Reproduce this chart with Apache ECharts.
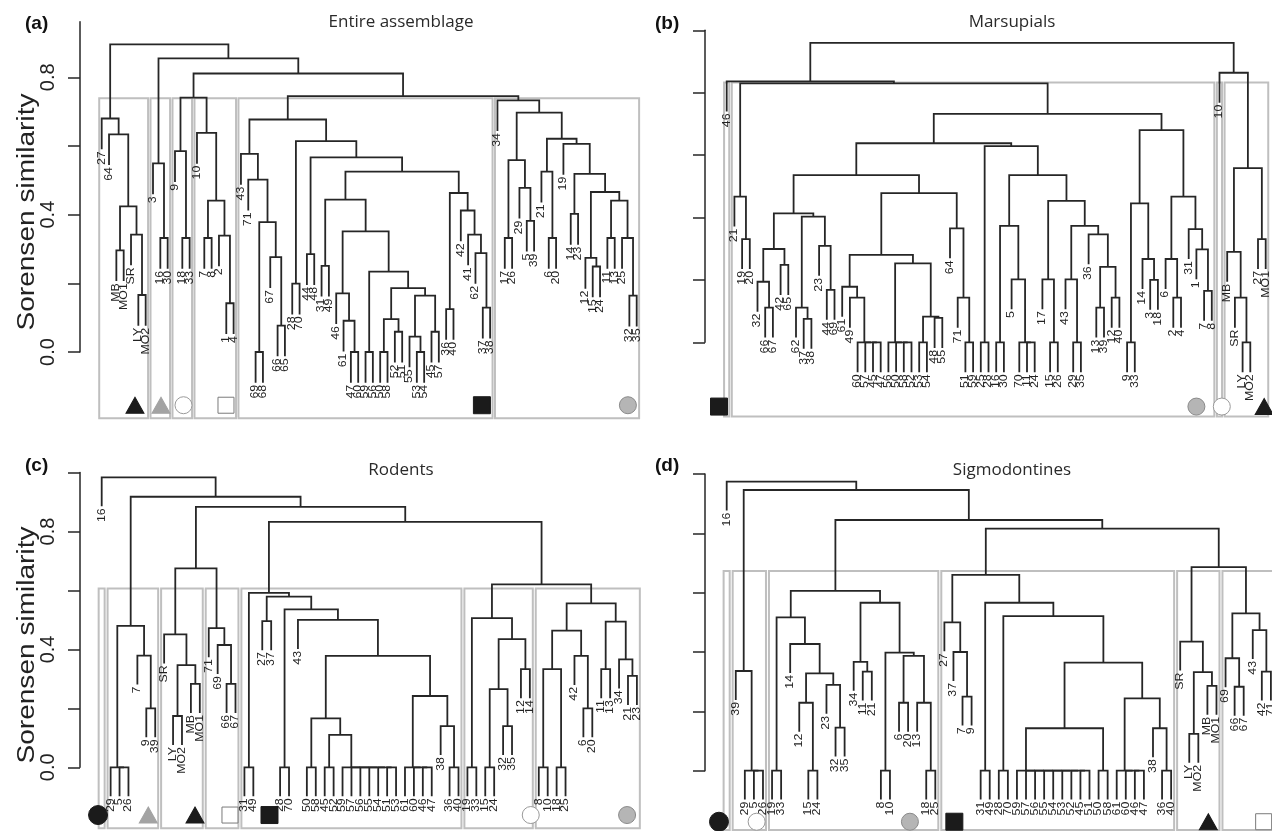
<!DOCTYPE html>
<html><head><meta charset="utf-8">
<script src="https://cdn.jsdelivr.net/npm/echarts@6.0.0/dist/echarts.min.js"></script>
<style>html,body{margin:0;padding:0;background:#fff}#c{width:1272px;height:831px}</style>
</head><body><div id="c"></div>
<script>
// ================= DATA =================
// Trees: [height, child, child, ...]; a string is a leaf (site label).
// Nodes with more than two children are ties (merged at the same height).

// ---- (a) Entire assemblage ----
const a_box1 = [0.680, "27", [0.634, "64", [0.424, [0.296, "MB", "MO1"], [0.342, "SR", [0.166, "LY", "MO2"]]]]];
const a_box2 = [0.549, "3", [0.332, "16", "30"]];
const a_box3 = [0.585, "9", [0.332, "18", "33"]];
const a_box4 = [0.638, "10", [0.441, [0.332, "7", "8"], [0.339, "2", [0.142, "1", "4"]]]];
const a_box5L = [0.577, "43", [0.502, "71", [0.378, [0, "69", "68"], [0.276, "67", [0.077, "66", "65"]]]]];
const a_box5K = [0.186, [0.096, [0, "50", "58"], [0.059, "52", "51"]], [0.164, [0.045, "55", [0, "53", "54"]], [0.059, "45", "57"]]];
const a_box5H = [0.351, [0.171, "46", [0.091, "61", [0, "47", "60"]]], [0.234, [0, "59", "56"], a_box5K]];
const a_box5G = [0.463, [0.125, "36", "40"], [0.412, "42", [0.342, "41", [0.288, "62", [0.129, "37", "38"]]]]];
const a_box5R = [0.614, [0.199, "28", "70"], [0.567, [0.285, "44", "48"], [0.525, [0.444, [0.251, "31", "49"], a_box5H], a_box5G]]];
const a_box5 = [0.677, a_box5L, a_box5R];
const a_box6 = [0.733, "34", [0.697,
  [0.559, [0.332, "17", "26"], [0.478, "29", [0.382, "5", "39"]]],
  [0.621, [0.525, "21", [0.332, "6", "20"]],
    [0.606, "19", [0.519, [0.402, "14", "23"],
      [0.466, [0.274, "12", [0.249, "15", "24"]], [0.441, [0.332, "11", "13"], [0.332, "25", [0.164, "32", "35"]]]]]]]]];
const treeA = [0.896, a_box1, [0.855, a_box2, [0.811, [0.741, a_box3, a_box4], [0.745, a_box5, a_box6]]]];
const cutA = 0.739;
const symKindA = ["blackTriangle", "greyTriangle", "whiteCircle", "whiteSquare", "blackSquare", "greyCircle"];
const symAtA = [5.54, 9.09, 12.16, 17.96, 52.88, 72.8];

// ---- (b) Marsupials ----
const b_g1 = [0.413,
  [0.299, [0.194, "32", [0.111, "66", "67"]], [0.248, "42", "65"]],
  [0.403, [0.111, "62", [0.075, "37", "38"]], [0.309, "23", [0.168, "44", "69"]]]];
const b_g2 = [0.478,
  [0.28, [0.178, "61", [0.143, "49", [0, "60", "57", "45", "47"]]],
         [0.253, [0, "56", "50", "58", "52"], [0.082, [0, "53", "54"], [0.078, "48", "55"]]]],
  [0.365, "64", [0.143, "71", [0, "51", "59"]]]];
const b_g3 = [0.629, [0, "25", "28"],
  [0.536, [0.373, [0, "16", "30"], [0.202, "5", [0, "70", "11", "24"]]],
          [0.453, [0.202, "17", [0, "15", "26"]],
                  [0.373, [0.202, "43", [0, "29", "35"]],
                          [0.346, "36", [0.242, [0.111, "13", "39"], [0.143, "12", "40"]]]]]]];
const b_g4 = [0.680,
  [0.445, [0, "9", "33"], [0.267, "14", [0.2, "3", "18"]]],
  [0.467, [0.267, "6", [0.143, "2", "4"]], [0.363, "31", [0.298, "1", [0.165, "7", "8"]]]]];
const b_main = [0.830, [0.467, "21", [0.331, "19", "20"]], [0.732, [0.638, [0.536, b_g1, b_g2], b_g3], b_g4]];
const b_other = [0.864, "10", [0.558, [0.290, "MB", [0.143, "SR", [0, "LY", "MO2"]]], [0.331, "27", "MO1"]]];
const treeB = [0.960, [0.836, "46", b_main], b_other];
const cutB = 0.833;
const symKindB = ["blackSquare", "greyCircle", "whiteCircle", "blackTriangle"];
const symAtB = [0.0, 62.0, 65.3, 70.8];

// ---- (c) Rodents ----
const c_box2 = [0.48, [0, "29", "5", "26"], [0.379, "7", [0.2, "9", "39"]]];
const c_box3 = [0.451, "SR", [0.347, [0.174, "LY", "MO2"], [0.283, "MB", "MO1"]]];
const c_box4 = [0.472, "71", [0.415, "69", [0.283, "66", "67"]]];
const c_box5 = [0.592, [0, "31", "49"], [0.579, [0.496, "27", "37"], [0.536, [0, "28", "70"], [0.5, "43",
  [0.378, [0.166, [0, "50", "58"], [0.11, [0, "45", "52"], [0, "59", "57", "56", "55", "54", "51", "53"]]],
          [0.242, [0, "61", "60", "46", "47"], [0.14, "38", [0, "36", "40"]]]]]]]];
const c_box6 = [0.506, [0, "19", "33"], [0.435, [0.265, [0, "15", "24"], [0.14, "32", "35"]], [0.333, "12", "14"]]];
const c_box7 = [0.556, [0.464, [0.333, [0, "8", "10"], [0, "18", "25"]], [0.378, "42", [0.2, "6", "20"]]],
                       [0.494, [0.333, "11", "13"], [0.366, "34", [0.31, "21", "23"]]]];
const treeC = [0.984, "16", [0.918, c_box2, [0.884, [0.675, c_box3, c_box4], [0.833, c_box5, [0.621, c_box6, c_box7]]]]];
const cutC = 0.607;
const symKindC = ["blackCircle", "greyTriangle", "blackTriangle", "whiteSquare", "blackSquare", "whiteCircle", "greyCircle"];
const symAtC = [0.59, 6.22, 11.46, 15.38, 19.81, 49.1, 59.9];

// ---- (d) Sigmodontines ----
const d_box2 = [0.336, "39", [0, "29", "5", "26"]];
const d_box3 = [0.606,
  [0.517, [0, "19", "33"], [0.427, "14", [0.328, [0.229, "12", [0, "15", "24"]], [0.289, "23", [0.145, "32", "35"]]]]],
  [0.566, [0.367, "34", [0.334, "11", "21"]], [0.398, [0, "8", "10"], [0.387, [0.229, "6", "20"], [0.229, "13", [0, "18", "25"]]]]]];
const d_box4 = [0.66, [0.5, "27", [0.4, "37", [0.25, "7", "9"]]],
  [0.566, [0, "31", "49"], [0.521, [0, "28", "70"],
    [0.364, [0.143, [0, "59", "57", "56", "55", "54", "53", "52", "45", "51"], [0, "50", "58"]],
            [0.244, [0, "61", "60", "46", "47"], [0.143, "38", [0, "36", "40"]]]]]]];
const d_box5 = [0.435, "SR", [0.332, [0.124, "LY", "MO2"], [0.286, "MB", "MO1"]]];
const d_box6 = [0.53, [0.379, "69", [0.283, "66", "67"]], [0.474, "43", [0.334, "42", "71"]]];
const treeD = [0.974, "16", [0.946, d_box2, [0.845, d_box3, [0.816, d_box4, [0.686, d_box5, d_box6]]]]];
const cutD = 0.673;
const symKindD = ["blackCircle", "whiteCircle", "greyCircle", "blackSquare", "blackTriangle", "whiteSquare"];
const symAtD = [0.15, 4.3, 21.2, 26.1, 54.1, 60.2];

const titles = ["Entire assemblage", "Marsupials", "Rodents", "Sigmodontines"];
const letters = ["(a)", "(b)", "(c)", "(d)"];
const yTitle = "Sorensen similarity";
const tickVals5 = [0, 0.2, 0.4, 0.6, 0.8];
const tickVals6 = [0, 0.2, 0.4, 0.6, 0.8, 1.0];
const tickLabelVals = [0, 0.4, 0.8];

// ================= LAYOUT / STYLE =================
const panels = [
  {tree: treeA, cut: cutA, kinds: symKindA, at: symAtA, x1: 101.7, x2: 636.7, y0: 352, ppu: 343.4, bottom: -0.193, symY: -0.155,
   axisX: 80, axisTop: 0.962, ticks: tickVals5, labels: true, tx: 401, ty: 22, lx: 25, ly: 24, yt: 212},
  {tree: treeB, cut: cutB, kinds: symKindB, at: symAtB, x1: 726.7, x2: 1265.7, y0: 342.3, ppu: 312, bottom: -0.238, symY: -0.206,
   axisX: 705, axisTop: 1.0, ticks: tickVals6, labels: false, tx: 1012, ty: 22, lx: 655, ly: 24},
  {tree: treeC, cut: cutC, kinds: symKindC, at: symAtC, x1: 101.7, x2: 636.9, y0: 767.3, ppu: 294.7, bottom: -0.207, symY: -0.162,
   axisX: 80, axisTop: 1.0, ticks: tickVals6, labels: true, tx: 401, ty: 470, lx: 25, ly: 466, yt: 645},
  {tree: treeD, cut: cutD, kinds: symKindD, at: symAtD, x1: 726.7, x2: 1270.9, y0: 770.7, ppu: 296.7, bottom: -0.2, symY: -0.172,
   axisX: 705, axisTop: 1.0, ticks: tickVals6, labels: false, tx: 1012, ty: 470, lx: 655, ly: 466}
];

const SYM = {
  blackTriangle: {symbol: 'triangle', size: [18, 16], color: '#1b1b1b', border: '#1b1b1b'},
  greyTriangle:  {symbol: 'triangle', size: [18, 16], color: '#a3a3a3', border: '#a3a3a3'},
  whiteCircle:   {symbol: 'circle', size: 17, color: '#ffffff', border: '#9a9a9a'},
  whiteSquare:   {symbol: 'rect', size: 16, color: '#ffffff', border: '#7a7a7a'},
  blackSquare:   {symbol: 'rect', size: 17, color: '#1b1b1b', border: '#1b1b1b'},
  greyCircle:    {symbol: 'circle', size: 17, color: '#b5b5b5', border: '#8a8a8a'},
  blackCircle:   {symbol: 'circle', size: 19, color: '#1b1b1b', border: '#1b1b1b'}
};
const LINE = '#262626';
const FONT = '"Liberation Sans", Arial, Helvetica, sans-serif';

function countLeaves(n) { return typeof n === 'string' ? 1 : n.slice(1).reduce((s, c) => s + countLeaves(c), 0); }

function layoutTree(tree) {
  const hang = 0.1 * tree[0];
  const leaves = [], segs = [];
  function bottom(k, h) { if (k.leaf) { k.leaf.end = h - hang; return h - hang; } return k.h; }
  function join(a, b, h) { segs.push([a.x, bottom(a, h), b.x, bottom(b, h), h]); return {x: (a.x + b.x) / 2, h: h, leaf: null}; }
  function walk(node) {
    if (typeof node === 'string') {
      const lf = {name: node, x: leaves.length + 1, end: 0};
      leaves.push(lf);
      return {x: lf.x, h: null, leaf: lf};
    }
    const h = node[0];
    const kids = node.slice(1).map(walk);
    let acc = kids[kids.length - 1];
    for (let i = kids.length - 2; i >= 0; i--) acc = join(kids[i], acc, h);
    return acc;
  }
  walk(tree);
  return {leaves, segs};
}

function clusters(tree, hc) {
  const out = []; let idx = 0;
  (function rec(node) {
    if (typeof node === 'string') { idx++; out.push([idx, idx]); return; }
    if (node[0] < hc) { const n = countLeaves(node); out.push([idx + 1, idx + n]); idx += n; return; }
    node.slice(1).forEach(rec);
  })(tree);
  return out;
}

const grid = [], xAxis = [], yAxis = [], series = [], graphic = [];
panels.forEach((P, pi) => {
  const L = layoutTree(P.tree);
  const n = L.leaves.length;
  const sp = (P.x2 - P.x1) / (n - 1);
  const yMax = 1.05;
  const gp = grid.length;
  grid.push({left: P.x1 - sp, top: P.y0 - yMax * P.ppu, width: sp * (n + 1), height: (yMax - P.bottom) * P.ppu, containLabel: false, outerBoundsMode: 'none'});
  xAxis.push({type: 'value', gridIndex: gp, min: 0, max: n + 1, show: false});
  yAxis.push({type: 'value', gridIndex: gp, min: P.bottom, max: yMax, show: false});
  const ga = grid.length;
  grid.push({left: P.axisX, top: P.y0 - P.axisTop * P.ppu, width: 20, height: P.axisTop * P.ppu, containLabel: false, outerBoundsMode: 'none'});
  xAxis.push({type: 'value', gridIndex: ga, min: 0, max: 1, show: false});
  yAxis.push({type: 'value', gridIndex: ga, min: 0, max: P.axisTop, position: 'left',
    axisLine: {show: true, onZero: false, lineStyle: {color: LINE, width: 1.5}},
    axisTick: {show: true, length: 12, customValues: P.ticks, lineStyle: {color: LINE, width: 1.5}},
    axisLabel: {show: P.labels, customValues: tickLabelVals, rotate: 90, fontSize: 20, margin: 22, color: '#222', fontFamily: FONT,
      formatter: v => (tickLabelVals.indexOf(Math.round(v * 10) / 10) >= 0 ? v.toFixed(1) : '')},
    splitLine: {show: false}});

  // cluster boxes
  const cl = clusters(P.tree, P.cut);
  series.push({type: 'custom', xAxisIndex: gp, yAxisIndex: gp, silent: true, z: 1,
    data: cl.map(c => [c[0] - 0.34, c[1] + 0.33, P.cut, P.bottom]),
    encode: {x: [0, 1], y: [2, 3]},
    renderItem: (params, api) => {
      const p0 = api.coord([api.value(0), api.value(2)]);
      const p1 = api.coord([api.value(1), api.value(3)]);
      return {type: 'rect', shape: {x: p0[0], y: p0[1], width: p1[0] - p0[0], height: p1[1] - p0[1]},
        style: {fill: 'none', stroke: '#bfbfbf', lineWidth: 2}};
    }});
  // dendrogram links
  series.push({type: 'custom', xAxisIndex: gp, yAxisIndex: gp, silent: true, z: 3,
    data: L.segs, encode: {x: [0, 2], y: [1, 3, 4]},
    renderItem: (params, api) => {
      const xl = api.value(0), bl = api.value(1), xr = api.value(2), br = api.value(3), h = api.value(4);
      return {type: 'polyline', shape: {points: [api.coord([xl, bl]), api.coord([xl, h]), api.coord([xr, h]), api.coord([xr, br])]},
        style: {stroke: LINE, lineWidth: 1.8, fill: null}};
    }});
  // leaf labels
  const names = L.leaves.map(l => l.name);
  series.push({type: 'custom', xAxisIndex: gp, yAxisIndex: gp, silent: true, z: 4,
    data: L.leaves.map(l => [l.x, l.end]), encode: {x: 0, y: 1},
    renderItem: (params, api) => {
      const p = api.coord([api.value(0), api.value(1)]);
      return {type: 'text', x: p[0], y: p[1] + 2, rotation: Math.PI / 2, scaleX: 1.18,
        style: {text: names[params.dataIndex], fontSize: 10.5, fontFamily: FONT, fill: '#222', align: 'right', verticalAlign: 'middle'}};
    }});
  // cluster symbols
  series.push({type: 'scatter', xAxisIndex: gp, yAxisIndex: gp, silent: true, z: 5,
    data: P.kinds.map((k, i) => ({value: [P.at[i], P.symY], symbol: SYM[k].symbol, symbolSize: SYM[k].size,
      itemStyle: {color: SYM[k].color, borderColor: SYM[k].border, borderWidth: 1, opacity: 1}}))});

  graphic.push({type: 'text', x: P.tx, y: P.ty, style: {text: titles[pi], font: '17px "Open Sans", sans-serif', fill: '#2a2a2a', align: 'center', verticalAlign: 'middle'}});
  graphic.push({type: 'text', x: P.lx, y: P.ly, style: {text: letters[pi], font: 'bold 19px ' + FONT, fill: '#111', align: 'left', verticalAlign: 'middle'}});
  if (P.yt) graphic.push({type: 'text', x: 28, y: P.yt, rotation: Math.PI / 2, scaleX: 1.22,
    style: {text: yTitle, font: '23px ' + FONT, fill: '#222', align: 'center', verticalAlign: 'middle'}});
});

const chart = echarts.init(document.getElementById('c'), null, {renderer: 'canvas'});
chart.setOption({animation: false, backgroundColor: '#fff', grid, xAxis, yAxis, series, graphic});
</script></body></html>
